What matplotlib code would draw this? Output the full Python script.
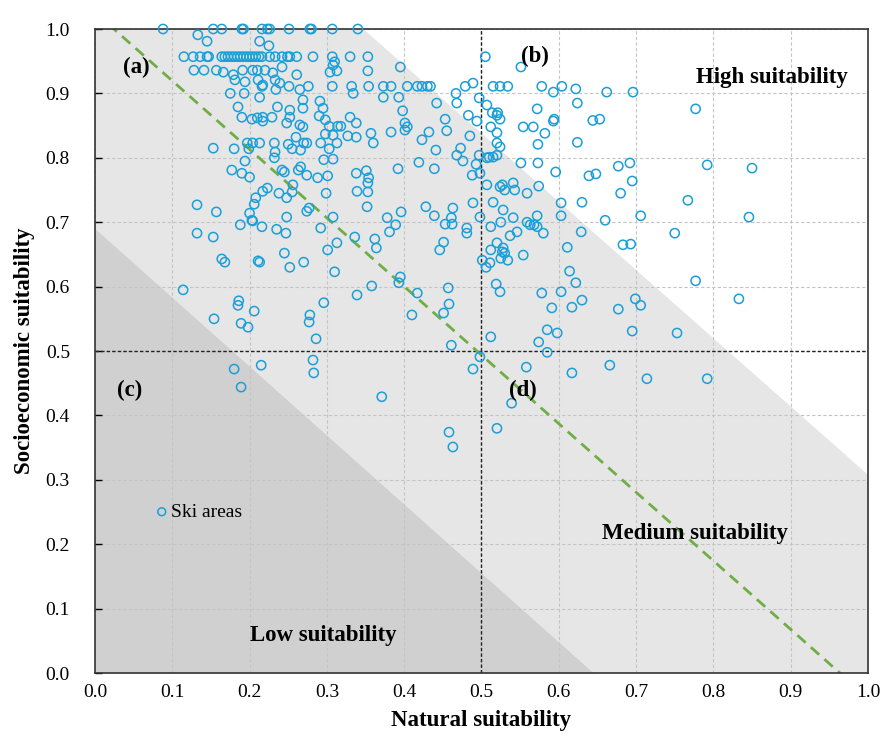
import matplotlib.pyplot as plt
import numpy as np

plt.rcParams['font.family'] = ['Liberation Serif', 'DejaVu Sans']

# ski areas, grouped by quadrant (natural, socioeconomic)
quad_a = [
    (0.088, 1.0), (0.153, 1.0), (0.164, 1.0), (0.190, 1.0), (0.192, 1.0), (0.216, 1.0), (0.223, 1.0),
    (0.226, 1.0), (0.251, 1.0), (0.278, 1.0), (0.280, 1.0), (0.307, 1.0), (0.340, 1.0),
    (0.133, 0.991), (0.145, 0.981), (0.213, 0.981), (0.225, 0.974),
    (0.115, 0.957), (0.127, 0.957), (0.136, 0.957), (0.145, 0.957), (0.147, 0.957), (0.164, 0.957),
    (0.168, 0.957), (0.172, 0.957), (0.176, 0.957), (0.180, 0.957), (0.184, 0.957), (0.188, 0.957),
    (0.192, 0.957), (0.196, 0.957), (0.200, 0.957), (0.204, 0.957), (0.208, 0.957), (0.212, 0.957),
    (0.216, 0.957), (0.226, 0.957), (0.233, 0.957), (0.242, 0.957), (0.249, 0.957), (0.252, 0.957),
    (0.261, 0.957), (0.282, 0.957), (0.307, 0.957), (0.330, 0.957), (0.353, 0.957), (0.310, 0.949),
    (0.308, 0.944),
    (0.128, 0.936), (0.141, 0.936), (0.157, 0.936), (0.166, 0.933), (0.179, 0.929), (0.191, 0.936),
    (0.204, 0.936), (0.210, 0.936), (0.220, 0.936), (0.230, 0.932), (0.242, 0.941), (0.261, 0.929),
    (0.304, 0.933), (0.313, 0.935), (0.353, 0.935), (0.395, 0.941),
    (0.181, 0.921), (0.194, 0.918), (0.211, 0.921), (0.217, 0.913), (0.233, 0.921), (0.239, 0.916),
    (0.175, 0.900), (0.193, 0.900), (0.216, 0.911), (0.234, 0.906), (0.251, 0.911), (0.265, 0.906),
    (0.276, 0.911), (0.307, 0.911), (0.332, 0.911), (0.354, 0.911), (0.373, 0.911), (0.383, 0.911),
    (0.404, 0.911), (0.417, 0.911), (0.423, 0.911), (0.430, 0.911), (0.434, 0.911), (0.334, 0.900),
    (0.373, 0.894), (0.393, 0.894), (0.467, 0.900), (0.479, 0.911), (0.489, 0.916), (0.497, 0.893),
    (0.468, 0.885), (0.442, 0.885), (0.398, 0.873),
    (0.213, 0.894), (0.269, 0.890), (0.291, 0.888), (0.295, 0.877), (0.252, 0.874), (0.236, 0.879),
    (0.185, 0.879), (0.269, 0.877),
    (0.190, 0.863), (0.203, 0.860), (0.210, 0.862), (0.217, 0.863), (0.217, 0.857), (0.229, 0.863),
    (0.248, 0.854), (0.252, 0.863), (0.265, 0.851), (0.269, 0.848), (0.290, 0.865), (0.298, 0.859),
    (0.303, 0.849), (0.298, 0.837), (0.308, 0.835), (0.314, 0.849), (0.313, 0.823), (0.292, 0.823),
    (0.303, 0.814), (0.153, 0.815), (0.180, 0.814), (0.197, 0.823), (0.204, 0.823), (0.213, 0.823),
    (0.199, 0.814), (0.232, 0.823), (0.233, 0.809), (0.250, 0.821), (0.255, 0.814), (0.266, 0.812),
    (0.260, 0.832), (0.270, 0.823), (0.274, 0.823), (0.194, 0.795), (0.232, 0.800), (0.177, 0.781),
    (0.190, 0.776), (0.200, 0.770), (0.242, 0.781), (0.245, 0.778), (0.263, 0.781), (0.266, 0.786),
    (0.274, 0.773), (0.288, 0.769), (0.301, 0.772), (0.296, 0.797), (0.308, 0.798), (0.256, 0.758),
    (0.255, 0.747), (0.248, 0.738), (0.238, 0.745), (0.217, 0.748), (0.223, 0.753), (0.208, 0.738),
    (0.206, 0.728), (0.200, 0.714), (0.203, 0.703), (0.188, 0.696), (0.132, 0.727), (0.157, 0.716),
    (0.216, 0.693), (0.235, 0.689), (0.248, 0.708), (0.274, 0.717), (0.277, 0.722), (0.292, 0.691),
    (0.299, 0.745), (0.308, 0.708),
    (0.330, 0.863), (0.338, 0.854), (0.318, 0.849), (0.327, 0.834), (0.338, 0.832), (0.357, 0.838),
    (0.360, 0.823), (0.338, 0.776), (0.351, 0.780), (0.354, 0.769), (0.353, 0.761), (0.339, 0.748),
    (0.353, 0.747), (0.352, 0.724), (0.378, 0.707), (0.396, 0.716), (0.389, 0.696), (0.383, 0.840),
    (0.401, 0.854), (0.401, 0.843), (0.404, 0.848), (0.453, 0.860), (0.455, 0.842), (0.432, 0.840),
    (0.423, 0.828), (0.441, 0.812), (0.419, 0.793), (0.392, 0.783), (0.439, 0.783), (0.468, 0.804),
    (0.473, 0.815), (0.476, 0.795), (0.485, 0.834), (0.494, 0.857), (0.483, 0.866), (0.497, 0.804),
    (0.493, 0.790), (0.498, 0.776), (0.488, 0.773), (0.489, 0.730), (0.428, 0.724), (0.439, 0.710),
    (0.463, 0.722), (0.461, 0.707), (0.453, 0.697), (0.498, 0.708),
    (0.132, 0.683), (0.153, 0.677), (0.204, 0.702), (0.247, 0.683), (0.313, 0.668), (0.301, 0.657),
    (0.310, 0.623), (0.245, 0.652), (0.270, 0.638), (0.252, 0.630), (0.213, 0.638), (0.211, 0.640),
    (0.164, 0.643), (0.168, 0.638), (0.114, 0.595), (0.186, 0.578), (0.185, 0.571), (0.206, 0.562),
    (0.154, 0.550), (0.189, 0.543), (0.198, 0.537), (0.296, 0.575), (0.278, 0.556), (0.277, 0.545),
    (0.286, 0.519),
    (0.381, 0.685), (0.462, 0.697), (0.481, 0.691), (0.481, 0.683), (0.336, 0.677), (0.362, 0.674),
    (0.364, 0.660), (0.358, 0.601), (0.395, 0.615), (0.393, 0.606), (0.339, 0.587), (0.417, 0.590),
    (0.457, 0.598), (0.458, 0.573), (0.451, 0.559), (0.410, 0.556), (0.451, 0.669), (0.446, 0.657),
    (0.461, 0.509),
]

quad_b = [
    (0.505, 0.957), (0.551, 0.941), (0.515, 0.911), (0.524, 0.911), (0.534, 0.911), (0.578, 0.911),
    (0.593, 0.902), (0.604, 0.911), (0.622, 0.907), (0.662, 0.902), (0.696, 0.902), (0.777, 0.876),
    (0.653, 0.860), (0.644, 0.858), (0.677, 0.787), (0.692, 0.792), (0.792, 0.789), (0.850, 0.784),
    (0.695, 0.764), (0.680, 0.745), (0.767, 0.734), (0.507, 0.882), (0.572, 0.876), (0.624, 0.885),
    (0.520, 0.866), (0.594, 0.860),
    (0.507, 0.800), (0.510, 0.801), (0.515, 0.801), (0.520, 0.804), (0.524, 0.755), (0.527, 0.758),
    (0.530, 0.750), (0.541, 0.761), (0.543, 0.750), (0.559, 0.745), (0.574, 0.756), (0.514, 0.870),
    (0.521, 0.870), (0.524, 0.860), (0.512, 0.848), (0.520, 0.839), (0.520, 0.823), (0.524, 0.817),
    (0.554, 0.848), (0.567, 0.848), (0.582, 0.838), (0.573, 0.821), (0.593, 0.857), (0.551, 0.792),
    (0.573, 0.792), (0.596, 0.778), (0.624, 0.824), (0.639, 0.772), (0.648, 0.775), (0.603, 0.730),
    (0.630, 0.731), (0.660, 0.703), (0.603, 0.710), (0.559, 0.700), (0.568, 0.696), (0.507, 0.758),
    (0.515, 0.731), (0.528, 0.719), (0.512, 0.693), (0.525, 0.700), (0.541, 0.707), (0.572, 0.710),
    (0.537, 0.679), (0.546, 0.685), (0.563, 0.696), (0.572, 0.693), (0.580, 0.683), (0.520, 0.668),
    (0.528, 0.660), (0.527, 0.654), (0.530, 0.652), (0.525, 0.644), (0.534, 0.641), (0.512, 0.657),
    (0.501, 0.641), (0.506, 0.630), (0.511, 0.637), (0.554, 0.649), (0.611, 0.661), (0.614, 0.624),
    (0.622, 0.606), (0.630, 0.579), (0.617, 0.568), (0.603, 0.592), (0.578, 0.590), (0.591, 0.567),
    (0.585, 0.533), (0.598, 0.528), (0.574, 0.514), (0.677, 0.565), (0.683, 0.665), (0.629, 0.685),
    (0.519, 0.604), (0.524, 0.592), (0.512, 0.522),
    (0.706, 0.710), (0.846, 0.708), (0.750, 0.683), (0.693, 0.666), (0.777, 0.609), (0.699, 0.581),
    (0.706, 0.571), (0.833, 0.581), (0.695, 0.531), (0.753, 0.528),
]

quad_c = [
    (0.180, 0.472), (0.215, 0.478), (0.189, 0.444), (0.282, 0.486), (0.283, 0.466), (0.371, 0.429),
    (0.498, 0.491), (0.489, 0.472), (0.458, 0.374), (0.463, 0.351),
]

quad_d = [
    (0.585, 0.498), (0.558, 0.475), (0.617, 0.466), (0.666, 0.478), (0.714, 0.457), (0.792, 0.457),
    (0.539, 0.419), (0.520, 0.380),
]

pts = np.array(quad_a + quad_b + quad_c + quad_d)
natural, socio = pts[:, 0], pts[:, 1]

# zone boundaries (lines y = b0 + b1 * x)
high_line = (1.368, -1.06)
low_line = (0.69, -1.07)
fit_line = (1.026, -1.0646)

fig = plt.figure(figsize=(8.82, 7.38), dpi=100)
ax = fig.add_axes([0.1077, 0.088, 0.8764, 0.8727])
ax.set_facecolor('#e6e6e6')

xs = np.linspace(0, 1, 500)
hy = high_line[0] + high_line[1] * xs
ax.fill_between(xs, np.minimum(hy, 1.0), 1.0, where=hy < 1.0, color='white', lw=0, zorder=0)
ly = low_line[0] + low_line[1] * xs
ax.fill_between(xs, 0, np.clip(ly, 0, None), color='#d0d0d0', lw=0, zorder=0)

ax.grid(True, color='#c4c4c4', linestyle=(0, (3, 2)), lw=0.8, zorder=1)
ax.set_axisbelow(True)

ax.axvline(0.5, color='#222222', lw=1.0, linestyle=(0, (2.5, 1.5)), zorder=2)
ax.axhline(0.5, color='#222222', lw=1.0, linestyle=(0, (2.5, 1.5)), zorder=2)
ax.plot(xs, fit_line[0] + fit_line[1] * xs, color='#70ad47', lw=2, linestyle=(0, (4, 2.5)), zorder=2)

ax.scatter(natural, socio, s=44, facecolors='none', edgecolors='#1a9fd8', linewidths=1.1, zorder=3,
           clip_on=False, label='Ski areas')

ticks = np.arange(0, 1.01, 0.1)
ax.set_xlim(0, 1)
ax.set_ylim(0, 1)
ax.set_xticks(ticks)
ax.set_yticks(ticks)
ax.set_xticklabels(['%.1f' % v for v in ticks], fontsize=14)
ax.set_yticklabels(['%.1f' % v for v in ticks], fontsize=14)
ax.tick_params(direction='in', length=5, width=1)
ax.tick_params(axis='x', pad=8, length=0)
ax.tick_params(axis='y', pad=18)
for sp in ax.spines.values():
    sp.set_color('#333333')
    sp.set_linewidth(1.2)

ax.set_xlabel('Natural suitability', fontsize=16.5, fontweight='bold', labelpad=6)
ax.set_ylabel('Socioeconomic suitability', fontsize=16.5, fontweight='bold', labelpad=8)

bold = dict(fontsize=16.5, fontweight='bold', ha='center', va='center')
ax.text(0.054, 0.941, '(a)', **bold)
ax.text(0.569, 0.957, '(b)', **bold)
ax.text(0.045, 0.439, '(c)', **bold)
ax.text(0.554, 0.439, '(d)', **bold)

zone = dict(fontsize=16.5, fontweight='bold', ha='center', va='center')
ax.text(0.876, 0.924, 'High suitability', **zone)
ax.text(0.776, 0.217, 'Medium suitability', **zone)
ax.text(0.295, 0.059, 'Low suitability', **zone)

ax.legend(loc='center left', bbox_to_anchor=(0.065, 0.25), frameon=False, fontsize=14,
          handlelength=0.7, handletextpad=0.15, borderpad=0, markerscale=0.85)

fig.savefig('out.png', dpi=100)
